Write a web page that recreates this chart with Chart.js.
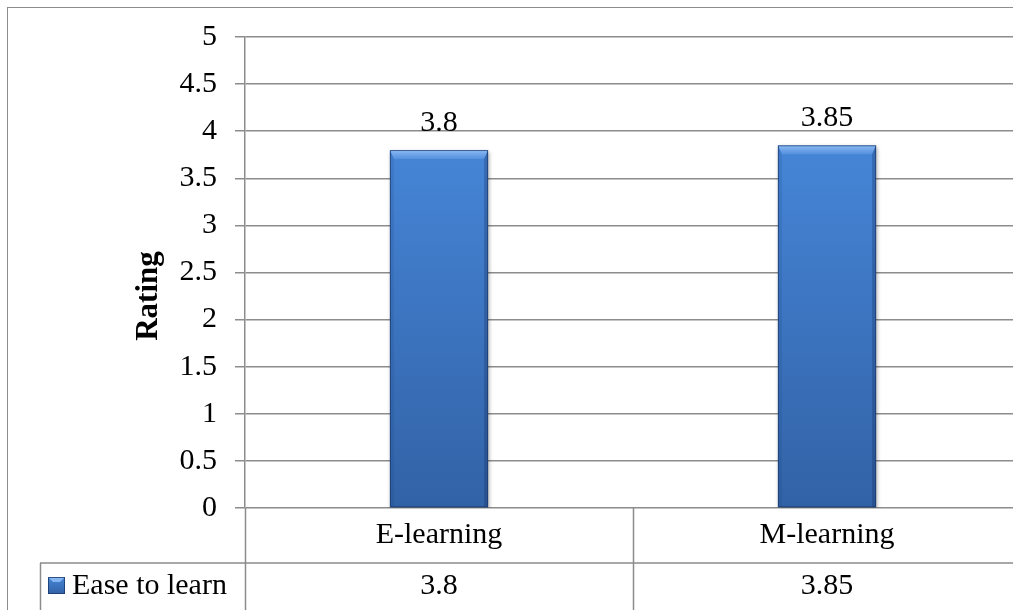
<!DOCTYPE html>
<html><head><meta charset="utf-8">
<script src="https://cdn.jsdelivr.net/npm/chart.js@4.4.0/dist/chart.umd.min.js"></script>
<style>
html,body{margin:0;padding:0;background:#fff;overflow:hidden;width:1013px;height:610px}
#wrap{position:absolute;left:0;top:0;width:1040px;height:610px}
</style>
</head><body>
<div id="wrap"><canvas id="c" width="1040" height="610"></canvas></div>
<script>
const categories = ['E-learning', 'M-learning'];
const seriesName = 'Ease to learn';
const easeToLearn = [3.8, 3.85];
const yMin = 0, yMax = 5, yStep = 0.5;
const axisTitle = 'Rating';

const FONT = "'Liberation Serif', 'Times New Roman', serif";
const FS = 30;
const GRID = '#8c8c8c';

function barGradient(ctx, top, bottom) {
  const g = ctx.createLinearGradient(0, top, 0, bottom);
  g.addColorStop(0, '#4686d8');
  g.addColorStop(1, '#3262a6');
  return g;
}

const decor = {
  id: 'decor',
  beforeDraw(chart) {
    const ctx = chart.ctx;
    ctx.save();
    ctx.strokeStyle = GRID;
    ctx.lineWidth = 1;
    ctx.strokeRect(7.5, 7.5, 1200, 800);
    ctx.restore();
  },
  beforeDatasetsDraw(chart) {
    const ctx = chart.ctx;
    ctx.save();
    ctx.shadowColor = 'rgba(0,0,0,0.35)';
    ctx.shadowBlur = 4;
    ctx.shadowOffsetX = 1;
    ctx.shadowOffsetY = 2;
  },
  afterDatasetsDraw(chart) {
    const ctx = chart.ctx;
    ctx.restore();
    const meta = chart.getDatasetMeta(0);
    meta.data.forEach((bar, i) => {
      const l = bar.x - bar.width / 2, r = bar.x + bar.width / 2;
      const t = bar.y, bot = bar.base;
      const b = 9, s = 4;
      ctx.save();
      const tg = ctx.createLinearGradient(0, t, 0, t + b);
      tg.addColorStop(0, 'rgba(170,210,255,0.75)');
      tg.addColorStop(1, 'rgba(120,170,240,0.35)');
      ctx.fillStyle = tg;
      ctx.beginPath();
      ctx.moveTo(l, t); ctx.lineTo(r, t); ctx.lineTo(r - s, t + b); ctx.lineTo(l + s, t + b); ctx.closePath();
      ctx.fill();
      ctx.fillStyle = 'rgba(20,50,110,0.12)';
      ctx.beginPath();
      ctx.moveTo(l, t); ctx.lineTo(l + s, t + b); ctx.lineTo(l + s, bot); ctx.lineTo(l, bot); ctx.closePath();
      ctx.fill();
      ctx.fillStyle = 'rgba(10,30,80,0.25)';
      ctx.beginPath();
      ctx.moveTo(r, t); ctx.lineTo(r - s, t + b); ctx.lineTo(r - s, bot); ctx.lineTo(r, bot); ctx.closePath();
      ctx.fill();
      ctx.strokeStyle = 'rgba(25,55,105,0.7)';
      ctx.lineWidth = 1;
      ctx.strokeRect(l + 0.5, t + 0.5, r - l - 1, bot - t - 1);
      ctx.restore();

      ctx.save();
      ctx.font = FS + 'px ' + FONT;
      ctx.fillStyle = '#000';
      ctx.textAlign = 'center';
      ctx.textBaseline = 'alphabetic';
      ctx.fillText(String(easeToLearn[i]), bar.x, t - 19);
      ctx.restore();
    });
  },
  afterDraw(chart) {
    const ctx = chart.ctx;
    const area = chart.chartArea;
    const xs = chart.scales.x;
    const ys = chart.scales.y;
    const y0 = Math.round(ys.getPixelForValue(yMin));
    const rowTop = 563;
    const H = chart.height + 5;
    ctx.save();
    ctx.strokeStyle = GRID;
    ctx.lineWidth = 1.5;
    ctx.beginPath();
    ctx.moveTo(40, rowTop); ctx.lineTo(area.right, rowTop);
    ctx.moveTo(40.5, rowTop); ctx.lineTo(40.5, H);
    const ax = Math.round(area.left) + 0.5;
    ctx.moveTo(ax, y0); ctx.lineTo(ax, H);
    for (let i = 0; i < categories.length - 1; i++) {
      const dx = Math.round((xs.getPixelForValue(i) + xs.getPixelForValue(i + 1)) / 2) + 0.5;
      ctx.moveTo(dx, y0); ctx.lineTo(dx, H);
    }
    ctx.stroke();

    const kx = 48, ky = 577, ks = 17;
    ctx.fillStyle = barGradient(ctx, ky, ky + ks);
    ctx.fillRect(kx, ky, ks, ks);
    ctx.fillStyle = 'rgba(150,195,250,0.8)';
    ctx.beginPath();
    ctx.moveTo(kx, ky); ctx.lineTo(kx + ks, ky); ctx.lineTo(kx + ks - 5, ky + 5); ctx.lineTo(kx + 5, ky + 5); ctx.closePath();
    ctx.fill();
    ctx.strokeStyle = 'rgba(25,55,105,0.8)';
    ctx.lineWidth = 1;
    ctx.strokeRect(kx + 0.5, ky + 0.5, ks - 1, ks - 1);

    ctx.font = FS + 'px ' + FONT;
    ctx.fillStyle = '#000';
    ctx.textBaseline = 'middle';
    ctx.textAlign = 'left';
    ctx.fillText(seriesName, 72, 586);
    ctx.textAlign = 'center';
    easeToLearn.forEach((v, i) => {
      ctx.fillText(String(v), xs.getPixelForValue(i), 586);
    });

    ctx.save();
    ctx.translate(149, 296);
    ctx.rotate(-Math.PI / 2);
    ctx.font = 'bold ' + (FS + 1) + 'px ' + FONT;
    ctx.textAlign = 'center';
    ctx.textBaseline = 'middle';
    ctx.fillText(axisTitle, 0, 0);
    ctx.restore();
    ctx.restore();
  }
};

new Chart(document.getElementById('c'), {
  type: 'bar',
  data: {
    labels: categories,
    datasets: [{
      label: seriesName,
      data: easeToLearn,
      backgroundColor: (c) => {
        const a = c.chart.chartArea;
        if (!a) return '#3f7ac8';
        return barGradient(c.chart.ctx, a.top + 100, a.bottom);
      },
      borderWidth: 0,
      categoryPercentage: 1,
      barPercentage: 0.253
    }]
  },
  options: {
    responsive: false,
    animation: false,
    events: [],
    layout: { padding: { top: 37, right: 19, bottom: 0, left: 0 } },
    plugins: { legend: { display: false }, tooltip: { enabled: false } },
    scales: {
      x: {
        grid: { display: false, drawTicks: false },
        border: { display: false },
        ticks: { color: '#000', font: { family: FONT, size: FS }, padding: 9, maxRotation: 0 },
        afterFit(s) { s.height = 102; }
      },
      y: {
        min: yMin, max: yMax,
        grid: { color: GRID, lineWidth: 1.5, tickLength: 10, drawTicks: true },
        border: { display: true, color: GRID, width: 1.5 },
        ticks: {
          stepSize: yStep, color: '#000', font: { family: FONT, size: FS }, padding: 18,
          callback: (v) => String(Math.round(v * 100) / 100)
        },
        afterFit(s) { s.width = 245; }
      }
    }
  },
  plugins: [decor]
});
</script>
</body></html>
